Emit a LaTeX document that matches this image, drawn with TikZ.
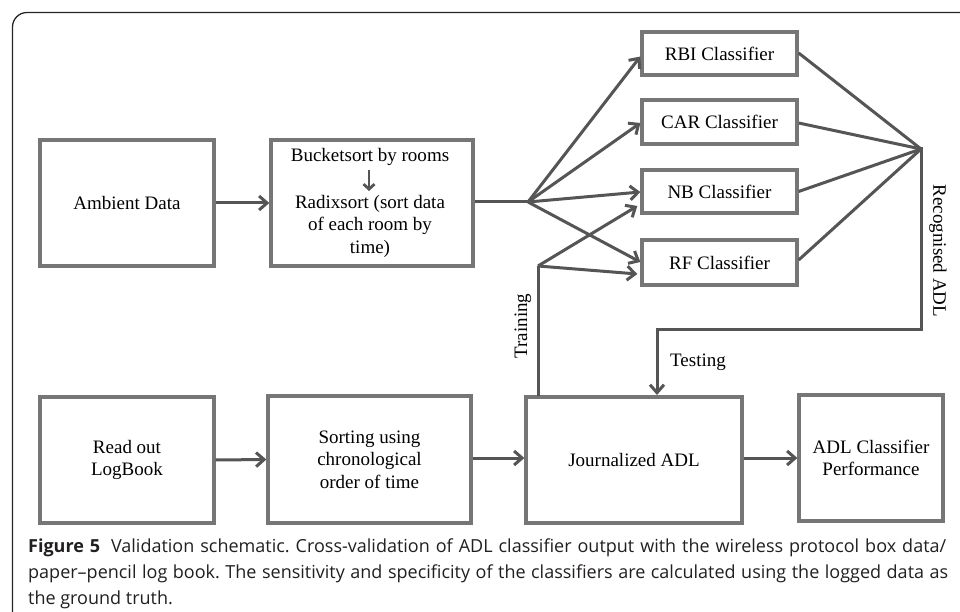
\documentclass[tikz,border=0pt]{standalone}
\usepackage{fontspec}
\setmainfont{Liberation Serif}
\newfontfamily\capfont{Open Sans}
\usetikzlibrary{arrows.meta,calc}
\definecolor{boxgray}{HTML}{767676}
\definecolor{linegray}{HTML}{555555}
\definecolor{captxt}{HTML}{231F20}
\frenchspacing
\begin{document}
\begin{tikzpicture}[x=1pt,y=-1pt,
  blk/.style={draw=boxgray,line width=3.3pt,rectangle,inner sep=0pt,align=center,
    font=\fontsize{19}{22.5}\selectfont},
  conn/.style={draw=linegray,line width=3pt},
  arr/.style={conn,-{Straight Barb[length=8pt,width=14pt,line width=3pt]}},
  lbl/.style={font=\fontsize{19}{22.5}\selectfont,inner sep=0pt},
  captn/.style={font=\capfont\fontsize{18}{26}\selectfont\frenchspacing,text=captxt,anchor=base west,inner sep=0pt}]
\useasboundingbox (0,0) rectangle (960,612);
\fill[white] (0,0) rectangle (960,612);
% frame
\draw[line width=1.3pt,black!85] (12.5,620) -- (12.5,27) arc[start angle=180,end angle=270,radius=14.5] -- (970,12.5);

% top row
\node[blk,minimum width=174pt,minimum height=126pt] (amb) at (127,203) {Ambient Data};
\node[blk,minimum width=202pt,minimum height=126pt] (bkt) at (372,203) {};
\node[lbl] (bk1) at (370,157) {Bucketsort by rooms};
\node[lbl,align=center] (bk2) at (370,226) {Radixsort (sort data\\of each room by\\time)};
\draw[conn,line width=2.8pt,-{Straight Barb[length=5pt,width=11pt,line width=2.8pt]}] (369,170) -- (369,191);

\node[blk,minimum width=155pt,minimum height=43pt] (rbi) at (719.5,53.5) {RBI Classifier};
\node[blk,minimum width=155pt,minimum height=44pt] (car) at (719.5,122) {CAR Classifier};
\node[blk,minimum width=155pt,minimum height=43pt] (nb) at (719.5,191.5) {NB Classifier};
\node[blk,minimum width=155pt,minimum height=45pt] (rf) at (719.5,262.5) {RF Classifier};

% bottom row
\node[blk,minimum width=174pt,minimum height=126pt] (read) at (127,460) {Read out\\LogBook};
\node[blk,minimum width=203pt,minimum height=127pt] (sort) at (369.5,459.5) {Sorting using\\chronological\\order of time};
\node[blk,minimum width=216pt,minimum height=126pt] (jour) at (634,460) {Journalized ADL};
\node[blk,minimum width=144pt,minimum height=126pt] (perf) at (871,458) {ADL Classifier\\Performance};

% coordinates
\coordinate (fan) at (528,202);
\coordinate (mrg) at (921,149);
\coordinate (trn) at (538,266);
\coordinate (c1) at (921,329);
\coordinate (c2) at (657,329);
\coordinate (jtop) at (657,395);
\coordinate (jtr) at (538,396);

% connectors
\draw[arr] (amb.east) -- (bkt.west);
\draw[conn] (bkt.east |- fan) -- (fan);
\draw[arr] (fan) -- ($(rbi.west)+(0,3)$);
\draw[arr] (fan) -- ($(car.west)+(0,1)$);
\draw[arr] (fan) -- ($(nb.west)+(0,0.5)$);
\draw[arr] (fan) -- ($(rf.west)+(0,-0.5)$);

\draw[conn] ($(rbi.east)+(0,-0.5)$) -- (mrg);
\draw[conn] ($(car.east)+(0,1)$) -- (mrg);
\draw[conn] (nb.east) -- (mrg);
\draw[conn] ($(rf.east)+(0,-2.5)$) -- (mrg);
\draw[conn,line cap=rect] (mrg) -- (c1) -- (c2);
\draw[arr] (c2) -- (jtop);

\draw[conn] (jtr) -- (trn);
\draw[arr] (trn) -- ($(nb.west)+(-3,14.5)$);
\draw[arr] (trn) -- ($(rf.west)+(-3,11.5)$);

\draw[arr] (read.east) -- (sort.west);
\draw[arr] (sort.east |- 0,458) -- (jour.west |- 0,458);
\draw[arr] (jour.east |- 0,458) -- (perf.west |- 0,458);

% labels
\node[lbl,rotate=90] (ltrain) at (523,326) {Training};
\node[lbl] (ltest) at (698,362) {Testing};
\node[lbl,rotate=-90] (lrec) at (938,251) {Recognised ADL};

% caption
\node[captn] (cap1) at (28,552) {\makebox[918pt][s]{\textbf{Figure 5}\hspace{0.6em}Validation schematic. Cross-validation of ADL classifier output with the wireless protocol box data/}};
\node[captn] (cap2) at (28,578) {\makebox[920pt][s]{paper–pencil log book. The sensitivity and specificity of the classifiers are calculated using the logged data as}};
\node[captn] (cap3) at (28,604) {the ground truth.};
\end{tikzpicture}
\end{document}
